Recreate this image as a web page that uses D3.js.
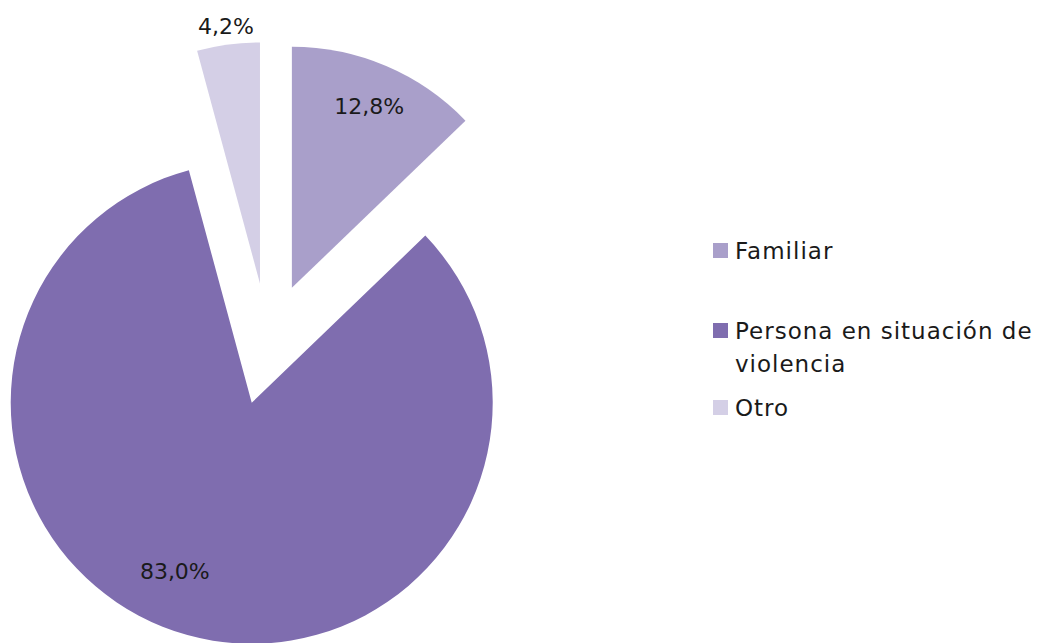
<!DOCTYPE html>
<html>
<head>
<meta charset="utf-8">
<script src="https://cdn.jsdelivr.net/npm/d3@7"></script>
<style>
  body { margin: 0; background: #fff; }
  svg { display: block; font-family: "Century Gothic", "DejaVu Sans", sans-serif; }
</style>
</head>
<body>
<div id="chart"></div>
<script>
// data
const categories = ["Familiar", "Persona en situación de violencia", "Otro"];
const values = [12.8, 83.0, 4.2];
const colors = ["#a99fca", "#7f6daf", "#d4cfe6"];
const legendLines = [["Familiar"], ["Persona en situación de", "violencia"], ["Otro"]];

const width = 1049;
const height = 643;
const cx = 268, cy = 344; // pie centre
const radius = 241;
const explode = 61;

const svg = d3.select("#chart")
    .append("svg")
    .attr("width", width)
    .attr("height", height);

const pie = d3.pie().sort(null).value(d => d)(values);
const arc = d3.arc().innerRadius(0).outerRadius(radius);

const shift = d => {
    const a = (d.startAngle + d.endAngle) / 2;
    return [Math.sin(a) * explode, -Math.cos(a) * explode];
};

const g = svg.append("g").attr("transform", `translate(${cx},${cy})`);

g.selectAll("path.slice")
    .data(pie)
    .enter()
    .append("path")
    .attr("class", "slice")
    .attr("fill", (d, i) => colors[i])
    .attr("transform", d => `translate(${shift(d)})`)
    .attr("d", arc);

// label placement: distance factor and angle nudge (Excel best-fit)
const labelR = [0.82, 0.77, 1.075];
const labelNudge = [0, 9, 0];

g.selectAll("text.lbl")
    .data(pie)
    .enter()
    .append("text")
    .attr("class", "lbl")
    .attr("transform", (d, i) => {
        const s = shift(d);
        const a = (d.startAngle + d.endAngle) / 2 + labelNudge[i] * Math.PI / 180;
        const r = radius * labelR[i];
        return `translate(${s[0] + Math.sin(a) * r},${s[1] - Math.cos(a) * r})`;
    })
    .attr("text-anchor", "middle")
    .attr("dy", "0.35em")
    .style("font-size", "22px")
    .style("fill", "#1a1a1a")
    .text((d, i) => d3.format(".1f")(values[i]).replace(".", ",") + "%");

// legend
const legendY = [251, 331, 408];
const legend = svg.selectAll(".legend")
    .data(categories)
    .enter()
    .append("g")
    .attr("class", "legend")
    .attr("transform", (d, i) => `translate(713, ${legendY[i]})`);

legend.append("rect")
    .attr("x", 0)
    .attr("y", -8)
    .attr("width", 15)
    .attr("height", 15)
    .style("fill", (d, i) => colors[i]);

legend.append("text")
    .attr("x", 22)
    .attr("y", 0)
    .style("font-size", "23px")
    .style("letter-spacing", "1px")
    .style("fill", "#1a1a1a")
    .selectAll("tspan")
    .data((d, i) => legendLines[i])
    .enter()
    .append("tspan")
    .attr("x", 22)
    .attr("dy", (d, j) => j === 0 ? "0.35em" : 33)
    .text(d => d);
</script>
</body>
</html>
